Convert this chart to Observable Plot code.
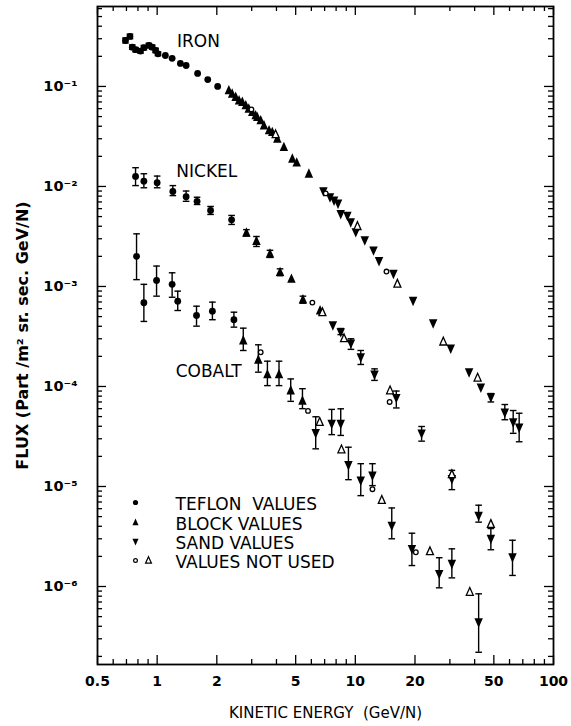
<!DOCTYPE html>
<html><head><meta charset="utf-8">
<script src="https://cdn.jsdelivr.net/npm/d3@7"></script>
<script src="https://cdn.jsdelivr.net/npm/@observablehq/plot@0.6"></script>
<style>
html,body{margin:0;padding:0;background:#fff;}
svg text{white-space:pre;}
</style></head><body><div id="chart"></div>
<script>
// ---- Data (kinetic energy GeV/N, flux) ----
// kind: T teflon, B block, S sand, o value not used (teflon), d value not used (block/sand)
const ironE = [0.692,0.729,0.749,0.778,0.824,0.857,0.908,0.944,0.982,1.01,1.10,1.19,1.31,1.40,1.60,1.80,2.02,
  2.30,2.39,2.49,2.59,2.69,2.80,2.90,2.99,3.02,3.14,3.20,3.33,3.46,3.67,3.81,3.96,4.04,4.36,4.81,5.06,5.83,
  6.90,7.09,7.45,7.81,8.18,8.44,9.12,9.48,10.25,10.05,11.16,12.35,13.17,14.36,15.57,16.3,19.56,24.7,27.8,30.3,37.5,41.4,43.0,48.3,56.8,62.6,67.1];
const ironF = [0.288,0.316,0.247,0.233,0.226,0.244,0.257,0.247,0.229,0.212,0.204,0.191,0.170,0.162,0.135,0.117,0.100,
  0.0912,0.0845,0.0782,0.0724,0.0697,0.0646,0.0598,0.0589,0.0553,0.0513,0.0493,0.0457,0.0407,0.0363,0.0349,0.0331,0.0300,0.0247,0.0189,0.0173,0.0134,
  0.00897,0.00852,0.0078,0.00724,0.00676,0.0053,0.0051,0.0044,0.0040,0.0035,0.0029,0.0023,0.0018,0.00141,0.00134,0.00106,0.00072,0.00043,0.00028,0.00024,0.000139,0.000122,0.000098,0.000078,0.000055,0.000044,0.000039];
const ironKind = ["T","T","T","T","T","T","T","T","T","T","T","T","T","T","T","T","T",
  "B","B","B","B","B","B","B","o","B","B","B","B","B","B","B","d","B","B","B","B","B",
  "S","o","S","S","S","S","S","S","d","S","S","S","S","o","S","d","S","S","d","S","S","d","S","S","S","S","S"];
const ironLo = [0.272,0.300,0.235,0.222,0.215,0.232,0.245,0.236,0.218,0.203,null,null,null,null,null,null,null,
  null,null,null,null,null,null,null,null,null,null,null,null,null,null,null,null,null,null,null,null,null,
  null,null,null,null,null,null,null,null,null,null,null,null,null,null,null,null,null,null,null,null,null,null,null,0.000070,0.0000465,0.000034,0.000028];
const ironHi = [0.305,0.333,0.260,0.245,0.238,0.257,0.270,0.259,0.241,0.222,null,null,null,null,null,null,null,
  null,null,null,null,null,null,null,null,null,null,null,null,null,null,null,null,null,null,null,null,null,
  null,null,null,null,null,null,null,null,null,null,null,null,null,null,null,null,null,null,null,null,null,null,null,0.000085,0.000066,0.0000575,0.000054];

const nickelE = [0.778,0.857,1.00,1.20,1.40,1.59,1.86,2.375,2.82,3.17,3.71,4.17,4.76,5.44,6.07,6.64,6.82,
  7.7,8.44,8.77,9.5,10.65,12.5,14.97,14.9,16.1,21.6,30.7,30.7,41.9,48.3,48.3,62.1];
const nickelF = [0.0126,0.0113,0.0109,0.0089,0.0079,0.0071,0.00575,0.00464,0.00344,0.00284,0.00212,0.00139,0.00119,0.00074,0.00069,0.000575,0.00055,
  0.00041,0.00035,0.000302,0.00027,0.000196,0.000132,0.000091,0.000070,0.000077,0.000034,0.0000132,0.0000119,0.0000051,0.0000042,0.0000030,0.00000196];
const nickelKind = ["T","T","T","T","T","T","T","T","B","B","B","B","B","B","o","B","d",
  "S","S","d","S","S","S","d","o","S","S","d","S","S","d","S","S"];
const nickelLo = [0.0102,0.0097,0.0097,0.0081,0.0071,0.0066,0.00525,0.00417,0.0032,0.00251,0.00195,0.00128,null,0.00068,null,null,null,
  null,0.00033,null,0.000235,0.000166,0.000115,null,null,0.000061,0.0000284,null,0.0000093,0.0000044,null,0.00000233,0.00000129];
const nickelHi = [0.0154,0.0134,0.0127,0.0102,0.0090,0.0078,0.00631,0.00513,0.0037,0.00316,0.0023,0.0015,null,0.0008,null,null,null,
  null,0.00038,null,0.0003,0.000229,0.00015,null,null,0.000090,0.0000398,null,0.0000145,0.0000065,null,0.0000038,0.0000029];

const cobaltE = [0.787,0.857,0.993,1.19,1.27,1.58,1.90,2.44,2.72,3.24,3.33,3.60,4.12,4.72,5.41,5.77,
  6.31,6.61,7.60,8.44,8.51,9.23,10.65,12.2,12.2,13.6,15.27,19.3,20.2,23.8,26.5,30.7,37.8,41.9];
const cobaltF = [0.0020,0.000687,0.00115,0.00105,0.000713,0.000513,0.000566,0.000465,0.000288,0.000185,0.00022,0.000132,0.000132,0.000091,0.000072,0.000057,
  0.0000343,0.000044,0.0000424,0.0000424,0.0000234,0.0000164,0.0000115,0.0000129,0.0000094,0.0000073,0.00000407,0.00000238,0.0000022,0.00000224,0.00000134,0.00000169,0.00000088,0.00000044];
const cobaltKind = ["T","T","T","T","T","T","T","T","B","B","o","B","B","B","B","o",
  "S","d","S","S","d","S","S","S","o","d","S","S","o","d","S","S","d","S"];
const cobaltLo = [0.00117,0.000447,0.0008,0.00078,0.000575,0.000401,0.000465,0.000392,0.000229,0.000139,null,0.000102,0.000102,0.000071,0.00006,null,
  0.0000238,null,0.000033,0.0000324,null,0.0000117,0.0000081,0.0000102,null,null,0.000003,0.00000162,null,null,0.00000097,0.00000122,null,0.00000022];
const cobaltHi = [0.00336,0.00105,0.0016,0.00137,0.000898,0.000635,0.000697,0.000553,0.000383,0.000261,null,0.000179,0.000179,0.000119,0.000095,null,
  0.0000498,null,0.000059,0.0000598,null,0.0000247,0.0000169,0.0000169,null,null,0.0000061,0.00000341,null,null,0.00000194,0.00000238,null,0.000000845];

const elementNames = ["IRON","NICKEL","COBALT"];
const elementLabelE = [1.26,1.25,1.24];
const elementLabelF = [0.281,0.0142,0.000142];
const legendLabels = ["TEFLON  VALUES","BLOCK VALUES","SAND VALUES","VALUES NOT USED"];
const xLabelTicks = [0.5,1,2,5,10,20,50,100];
const yLabelTicks = [1e-6,1e-5,1e-4,1e-3,1e-2,1e-1];
const xDomain = [0.5,100];
const yDomain = [1.66e-7,0.63];
const xTitle = "KINETIC ENERGY  (GeV/N)";
const yTitle = "FLUX (Part /m\u00b2 sr. sec. GeV/N)";

// ---- build rows ----
function rows(el,E,F,K,L,H){return E.map((e,i)=>({el,E:e,F:F[i],k:K[i],lo:L[i],hi:H[i]}));}
const all = [
  ...rows("iron",ironE,ironF,ironKind,ironLo,ironHi),
  ...rows("nickel",nickelE,nickelF,nickelKind,nickelLo,nickelHi),
  ...rows("cobalt",cobaltE,cobaltF,cobaltKind,cobaltLo,cobaltHi)
];
const err = all.filter(d=>d.lo!=null);
const of = k => all.filter(d=>d.k===k);

// symbols
const triUp = {draw(c,s){const r=Math.sqrt(s/Math.PI);c.moveTo(0,-1.2*r);c.lineTo(0.92*r,0.85*r);c.lineTo(-0.92*r,0.85*r);c.closePath();}};
const triDown = {draw(c,s){const r=Math.sqrt(s/Math.PI);c.moveTo(0,1.2*r);c.lineTo(0.92*r,-0.85*r);c.lineTo(-0.92*r,-0.85*r);c.closePath();}};
const cap = {draw(c,s){const r=Math.sqrt(s/Math.PI);c.moveTo(-r,0);c.lineTo(r,0);}};

// ticks
const W=571,H=726,mL=97,mR=18,mT=6,mB=62;
const iw=W-mL-mR, ih=H-mT-mB;
const xAll = d3.scaleLog().domain(xDomain).ticks();
const xMinor = xAll.filter(t=>!xLabelTicks.some(m=>Math.abs(m-t)/t<1e-6));
const yAll = d3.scaleLog().domain(yDomain).ticks();
const yMinor = yAll.filter(t=>!yLabelTicks.some(m=>Math.abs(m-t)/t<1e-6));
const sup = {"-":"\u207b","0":"\u2070","1":"\u00b9","2":"\u00b2","3":"\u00b3","4":"\u2074","5":"\u2075","6":"\u2076","7":"\u2077","8":"\u2078","9":"\u2079"};
const fmtY = d => "10" + String(Math.round(Math.log10(d))).split("").map(c=>sup[c]).join("");

const L=9, S=5, tk={stroke:"black",strokeWidth:1.3};
const chart = Plot.plot({
  width:W,height:H,marginLeft:mL,marginRight:mR,marginTop:mT,marginBottom:mB,
  style:{fontFamily:"'DejaVu Sans', sans-serif",color:"black",background:"white",overflow:"visible"},
  x:{type:"log",domain:xDomain,axis:null},
  y:{type:"log",domain:yDomain,axis:null},
  marks:[
    // inward ticks on all four sides
    Plot.tickX(xLabelTicks,{x:d=>d,insetTop:ih-L,...tk}),
    Plot.tickX(xLabelTicks,{x:d=>d,insetBottom:ih-L,...tk}),
    Plot.tickX(xMinor,{x:d=>d,insetTop:ih-S,...tk}),
    Plot.tickX(xMinor,{x:d=>d,insetBottom:ih-S,...tk}),
    Plot.tickY(yLabelTicks,{y:d=>d,insetRight:iw-L,...tk}),
    Plot.tickY(yLabelTicks,{y:d=>d,insetLeft:iw-L,...tk}),
    Plot.tickY(yMinor,{y:d=>d,insetRight:iw-S,...tk}),
    Plot.tickY(yMinor,{y:d=>d,insetLeft:iw-S,...tk}),
    Plot.frame({stroke:"black",strokeWidth:1.8}),
    // tick labels
    Plot.text(xLabelTicks,{x:d=>d,text:d=>String(d),frameAnchor:"bottom",lineAnchor:"top",dy:12,fontSize:14,fontWeight:"bold"}),
    Plot.text(yLabelTicks,{y:d=>d,text:fmtY,frameAnchor:"left",textAnchor:"end",dx:-20,fontSize:14.5,fontWeight:"bold"}),
    // axis titles
    Plot.text([xTitle],{text:d=>d,frameAnchor:"bottom",lineAnchor:"middle",textAnchor:"middle",dy:49,fontSize:15}),
    Plot.text([yTitle],{text:d=>d,frameAnchor:"left",textAnchor:"middle",lineAnchor:"middle",dx:-75,rotate:-90,fontSize:16,fontWeight:"bold"}),
    // error bars
    Plot.ruleX(err,{x:"E",y1:"lo",y2:"hi",stroke:"black",strokeWidth:1.4}),
    Plot.dot(err,{x:"E",y:"lo",symbol:cap,r:3.3,stroke:"black",strokeWidth:1.4,fill:"none"}),
    Plot.dot(err,{x:"E",y:"hi",symbol:cap,r:3.3,stroke:"black",strokeWidth:1.4,fill:"none"}),
    // points
    Plot.dot(of("T"),{x:"E",y:"F",symbol:"circle",r:3.4,fill:"black",stroke:"none"}),
    Plot.dot(of("B"),{x:"E",y:"F",symbol:triUp,r:4.6,fill:"black",stroke:"none"}),
    Plot.dot(of("S"),{x:"E",y:"F",symbol:triDown,r:4.6,fill:"black",stroke:"none"}),
    Plot.dot(of("o"),{x:"E",y:"F",symbol:"circle",r:2.3,fill:"white",stroke:"black",strokeWidth:1.3}),
    Plot.dot(of("d"),{x:"E",y:"F",symbol:triUp,r:3.8,fill:"white",stroke:"black",strokeWidth:1.3}),
    // element labels
    Plot.text(elementNames,{x:elementLabelE,y:elementLabelF,text:d=>d,textAnchor:"start",fontSize:17}),
    // legend
    Plot.text([legendLabels.join("\n")],{text:d=>d,frameAnchor:"top-left",dx:78,dy:490,textAnchor:"start",lineAnchor:"top",lineHeight:1.14,fontSize:17}),
    Plot.dot([0],{frameAnchor:"top-left",dx:38,dy:496,symbol:"circle",r:2.6,fill:"black"}),
    Plot.dot([0],{frameAnchor:"top-left",dx:38,dy:516,symbol:triUp,r:3.3,fill:"black"}),
    Plot.dot([0],{frameAnchor:"top-left",dx:38,dy:535,symbol:triDown,r:3.3,fill:"black"}),
    Plot.dot([0],{frameAnchor:"top-left",dx:38,dy:554,symbol:"circle",r:1.9,fill:"white",stroke:"black",strokeWidth:1.2}),
    Plot.dot([0],{frameAnchor:"top-left",dx:51,dy:554,symbol:triUp,r:3.2,fill:"white",stroke:"black",strokeWidth:1.2})
  ]
});
document.getElementById("chart").appendChild(chart);
</script></body></html>
